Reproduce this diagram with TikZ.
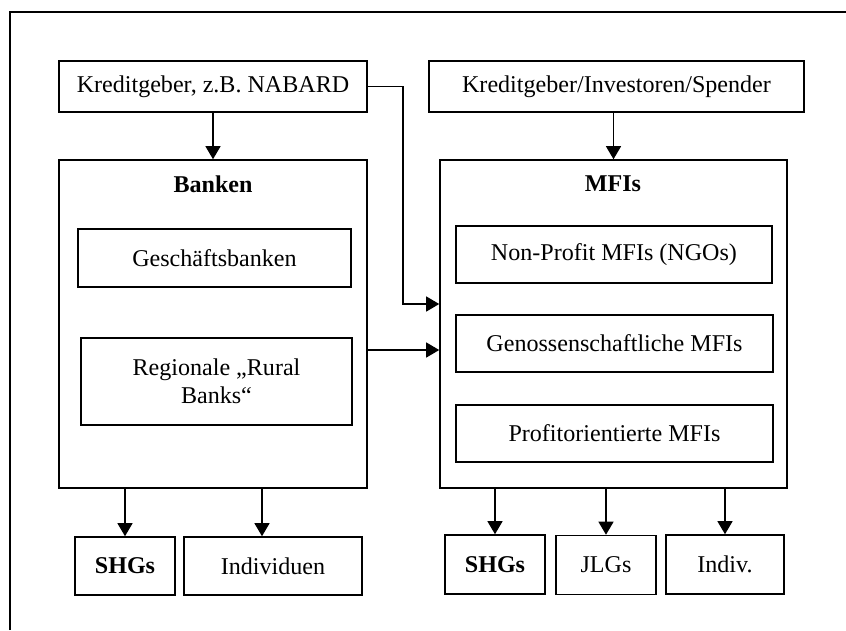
\documentclass[tikz,border=0pt]{standalone}
\usepackage{fontspec}
\setmainfont{Liberation Serif}
\usetikzlibrary{arrows.meta,calc}

\begin{document}
\begin{tikzpicture}
  [x=0.02cm,y=-0.02cm,
   every node/.style={font=\fontsize{13.7}{15.8}\selectfont,inner sep=0pt},
   box/.style={draw,line width=0.9pt,align=center},
   arr/.style={line width=0.7pt,-{Triangle[length=0.26cm,width=0.3cm]}}]
  \useasboundingbox (0,0) rectangle (846,630);
  \draw[line width=0.9pt] (10,630) -- (10,12) -- (846,12);
  % left column
  \node[box,minimum width=308*0.02cm,minimum height=51*0.02cm] (kred1) at (213,86.5) {Kreditgeber, z.B. NABARD};
  \node[box,minimum width=308*0.02cm,minimum height=328*0.02cm] (banken) at (213,324) {};
  \node (btitle) at (213,184) {\bfseries Banken};
  \node[box,minimum width=273*0.02cm,minimum height=58*0.02cm] (geschaeft) at (214.5,258) {Geschäftsbanken};
  \node[box,minimum width=271*0.02cm,minimum height=87*0.02cm] (regional) at (216.5,381.5) {Regionale „Rural\\Banks“};
  \node[box,minimum width=100*0.02cm,minimum height=58*0.02cm] (shg1) at (125,566) {\bfseries SHGs};
  \node[box,minimum width=178*0.02cm,minimum height=58*0.02cm] (indiv1) at (273,566) {Individuen};
  % right column
  \node[box,minimum width=375*0.02cm,minimum height=51*0.02cm] (kred2) at (616.5,86.5) {Kreditgeber/Investoren/Spender};
  \node[box,minimum width=347*0.02cm,minimum height=328*0.02cm] (mfis) at (613.5,324) {};
  \node (mtitle) at (613,184) {\bfseries MFIs};
  \node[box,minimum width=316*0.02cm,minimum height=57*0.02cm] (nonprofit) at (614,254.5) {Non-Profit MFIs (NGOs)};
  \node[box,minimum width=317*0.02cm,minimum height=57*0.02cm] (genoss) at (614.5,343.5) {Genossenschaftliche MFIs};
  \node[box,minimum width=317*0.02cm,minimum height=57*0.02cm] (profit) at (614.5,433.5) {Profitorientierte MFIs};
  \node[box,minimum width=100*0.02cm,minimum height=59*0.02cm] (shg2) at (495,564.5) {\bfseries SHGs};
  \node[box,minimum width=100*0.02cm,minimum height=59*0.02cm] (jlg) at (606,565) {JLGs};
  \node[box,minimum width=118*0.02cm,minimum height=59*0.02cm] (indiv2) at (725,564.5) {Indiv.};
  % connectors
  \coordinate (bend) at (403,304);
  \coordinate (rb) at (367,350);
  \coordinate (ind) at ($(indiv1.north)+(-11,0)$);
  \draw[arr] (kred1.south -| banken.north) -- (banken.north);
  \draw[arr] (kred2.south -| mfis.north) -- (mfis.north);
  \draw[arr] (kred1.east) -| (bend) -- (mfis.west |- bend);
  \draw[arr] (rb) -- (mfis.west |- rb);
  \draw[arr] (banken.south -| shg1) -- (shg1);
  \draw[arr] (banken.south -| ind) -- (ind);
  \foreach \t in {shg2,jlg,indiv2}
    \draw[arr] (mfis.south -| \t) -- (\t);
\end{tikzpicture}
\end{document}
